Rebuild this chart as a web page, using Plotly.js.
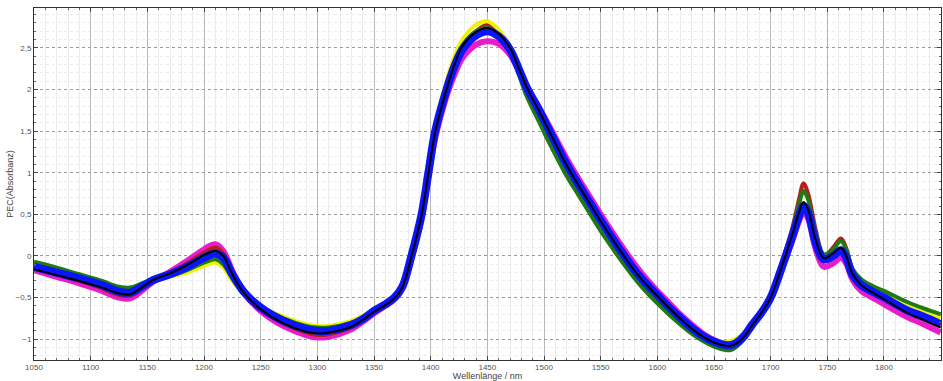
<!DOCTYPE html>
<html>
<head>
<meta charset="utf-8">
<script src="https://cdn.plot.ly/plotly-3.0.1.min.js"></script>
<style>html,body{margin:0;padding:0;background:#fff;}#chart{width:943px;height:381px;}</style>
</head>
<body>
<div id="chart"></div>
<script>
const wavelength = [1050,1070,1090,1110,1125,1135,1145,1155,1170,1185,
  1200,1210,1217,1225,1235,1250,1270,1290,1300,1310,
  1330,1340,1350,1360,1368,1375,1383,1392,1398,1404,
  1414,1421,1428,1440,1450,1460,1470,1478,1485,1495,
  1505,1520,1530,1540,1550,1560,1570,1580,1590,1600,
  1610,1620,1630,1640,1650,1660,1665,1670,1676,1684,
  1692,1700,1710,1719,1725,1729,1733,1740,1747,1755,
  1762,1767,1772,1780,1790,1800,1820,1835,1850];

const magentaSeries = [-0.17,-0.25,-0.33,-0.42,-0.50,-0.51,-0.42,-0.31,-0.19,-0.06,
  0.08,0.14,0.06,-0.18,-0.44,-0.66,-0.84,-0.95,-0.98,-0.97,
  -0.88,-0.79,-0.69,-0.60,-0.52,-0.39,-0.03,0.45,0.95,1.42,
  1.92,2.18,2.38,2.54,2.58,2.55,2.42,2.22,2.03,1.80,
  1.55,1.17,0.94,0.72,0.50,0.29,0.09,-0.10,-0.27,-0.42,
  -0.56,-0.70,-0.82,-0.93,-1.01,-1.06,-1.06,-1.03,-0.96,-0.82,
  -0.68,-0.50,-0.15,0.18,0.42,0.53,0.45,0.07,-0.13,-0.09,
  -0.02,-0.10,-0.28,-0.42,-0.50,-0.58,-0.73,-0.82,-0.92];

const redSeries = [-0.15,-0.22,-0.30,-0.39,-0.47,-0.48,-0.40,-0.30,-0.20,-0.09,
  0.04,0.10,0.03,-0.20,-0.44,-0.64,-0.81,-0.92,-0.95,-0.94,
  -0.86,-0.78,-0.68,-0.59,-0.51,-0.38,-0.01,0.48,0.98,1.47,
  1.98,2.27,2.50,2.70,2.78,2.70,2.52,2.26,2.04,1.79,
  1.52,1.13,0.90,0.68,0.46,0.25,0.05,-0.14,-0.30,-0.45,
  -0.59,-0.72,-0.84,-0.95,-1.03,-1.08,-1.08,-1.05,-0.98,-0.83,
  -0.68,-0.49,-0.08,0.33,0.68,0.87,0.75,0.30,0.00,0.10,
  0.21,0.08,-0.16,-0.32,-0.42,-0.50,-0.66,-0.75,-0.84];

const yellowSeries = [-0.09,-0.16,-0.23,-0.31,-0.38,-0.39,-0.34,-0.29,-0.25,-0.20,
  -0.12,-0.08,-0.14,-0.30,-0.45,-0.60,-0.73,-0.82,-0.84,-0.84,
  -0.78,-0.72,-0.64,-0.56,-0.48,-0.35,0.03,0.55,1.06,1.58,
  2.10,2.40,2.60,2.78,2.82,2.72,2.50,2.20,1.93,1.65,
  1.37,0.98,0.76,0.55,0.33,0.13,-0.06,-0.24,-0.40,-0.54,
  -0.67,-0.79,-0.89,-0.97,-1.02,-1.03,-1.02,-0.99,-0.93,-0.80,
  -0.66,-0.49,-0.12,0.24,0.50,0.62,0.55,0.17,-0.02,0.03,
  0.10,0.00,-0.18,-0.29,-0.37,-0.43,-0.57,-0.65,-0.74];

const greenSeries = [-0.07,-0.14,-0.22,-0.30,-0.37,-0.38,-0.33,-0.28,-0.24,-0.17,
  -0.08,-0.04,-0.10,-0.27,-0.45,-0.61,-0.75,-0.84,-0.86,-0.86,
  -0.80,-0.74,-0.65,-0.57,-0.49,-0.36,0.02,0.53,1.03,1.54,
  2.05,2.33,2.53,2.70,2.74,2.66,2.46,2.17,1.91,1.63,
  1.35,0.96,0.74,0.52,0.30,0.10,-0.09,-0.27,-0.43,-0.57,
  -0.70,-0.82,-0.93,-1.02,-1.09,-1.13,-1.13,-1.09,-1.01,-0.85,
  -0.70,-0.50,-0.10,0.30,0.62,0.78,0.68,0.26,0.02,0.08,
  0.18,0.07,-0.15,-0.28,-0.36,-0.42,-0.55,-0.63,-0.70];

const blueSeries = [-0.13,-0.20,-0.27,-0.35,-0.43,-0.44,-0.37,-0.29,-0.22,-0.13,
  -0.02,0.03,-0.02,-0.22,-0.43,-0.62,-0.78,-0.88,-0.90,-0.90,
  -0.83,-0.76,-0.66,-0.58,-0.50,-0.37,0.00,0.50,1.00,1.50,
  2.00,2.28,2.48,2.65,2.70,2.64,2.48,2.24,2.02,1.77,
  1.50,1.10,0.87,0.65,0.43,0.22,0.02,-0.17,-0.33,-0.47,
  -0.61,-0.74,-0.86,-0.96,-1.03,-1.07,-1.07,-1.04,-0.97,-0.82,
  -0.68,-0.50,-0.13,0.23,0.48,0.60,0.52,0.15,-0.04,0.00,
  0.07,-0.03,-0.22,-0.35,-0.43,-0.50,-0.65,-0.73,-0.82];

const blackSeries = [-0.16,-0.23,-0.30,-0.38,-0.45,-0.46,-0.38,-0.29,-0.21,-0.11,
  0.01,0.06,0.00,-0.22,-0.44,-0.64,-0.81,-0.91,-0.93,-0.92,
  -0.85,-0.77,-0.67,-0.59,-0.51,-0.38,-0.01,0.49,0.99,1.49,
  2.00,2.30,2.52,2.69,2.74,2.67,2.50,2.25,2.02,1.76,
  1.49,1.09,0.86,0.64,0.42,0.21,0.01,-0.18,-0.34,-0.48,
  -0.62,-0.75,-0.87,-0.97,-1.04,-1.08,-1.08,-1.05,-0.98,-0.83,
  -0.68,-0.50,-0.12,0.25,0.52,0.65,0.56,0.18,-0.03,0.03,
  0.10,-0.01,-0.21,-0.35,-0.44,-0.52,-0.68,-0.77,-0.86];

const seriesList = [
  {name: 'Magenta', y: magentaSeries, color: '#e81cc8', width: 6},
  {name: 'Rot', y: redSeries, color: '#b3201a', width: 4},
  {name: 'Gelb', y: yellowSeries, color: '#f2f200', width: 4},
  {name: 'Grün', y: greenSeries, color: '#1f7a12', width: 4},
  {name: 'Blau', y: blueSeries, color: '#0a14ff', width: 8},
  {name: 'Schwarz', y: blackSeries, color: '#000000', width: 2}
];

const traces = seriesList.map(s => ({
  type: 'scatter', mode: 'lines', name: s.name,
  x: wavelength, y: s.y,
  line: {color: s.color, width: s.width, shape: 'spline', smoothing: 1},
  hoverinfo: 'skip'
}));

const fontFamily = 'Liberation Sans, Arial, sans-serif';
const tickFont = {family: fontFamily, size: 8, color: '#555'};

const layout = {
  width: 943, height: 381,
  margin: {l: 34, r: 2, t: 8, b: 21},
  paper_bgcolor: '#fff', plot_bgcolor: '#fff',
  showlegend: false,
  separators: ',.',
  xaxis: {
    range: [1050, 1850.3], dtick: 50, tick0: 1050,
    showgrid: true, gridcolor: '#b8b8b8', gridwidth: 1,
    ticks: 'inside', ticklen: 4, tickcolor: '#444',
    showline: true, linecolor: '#333', linewidth: 1, mirror: 'allticks',
    zeroline: false, tickfont: tickFont, ticklabelstandoff: -1,
    minor: {dtick: 10, showgrid: true, gridcolor: '#ececec', gridwidth: 1, ticks: 'inside', ticklen: 2, tickcolor: '#666'},
    title: {text: 'Wellenlänge / nm', font: {family: fontFamily, size: 9, color: '#444'}, standoff: 4},
    automargin: false
  },
  yaxis: {
    range: [-1.25, 2.98], dtick: 0.5, tick0: 0,
    showgrid: true, gridcolor: '#9a9a9a', gridwidth: 1, griddash: 'dot',
    ticks: 'inside', ticklen: 4, tickcolor: '#444',
    showline: true, linecolor: '#333', linewidth: 1, mirror: 'allticks',
    zeroline: false, tickfont: tickFont,
    minor: {dtick: 0.1, showgrid: true, gridcolor: '#ececec', gridwidth: 1, ticks: 'inside', ticklen: 2, tickcolor: '#666'},
    title: {text: 'PEC(Absorbanz)', font: {family: fontFamily, size: 9, color: '#444'}, standoff: 0},
    automargin: false
  }
};

Plotly.newPlot('chart', traces, layout, {displayModeBar: false, staticPlot: true});
</script>
</body>
</html>
